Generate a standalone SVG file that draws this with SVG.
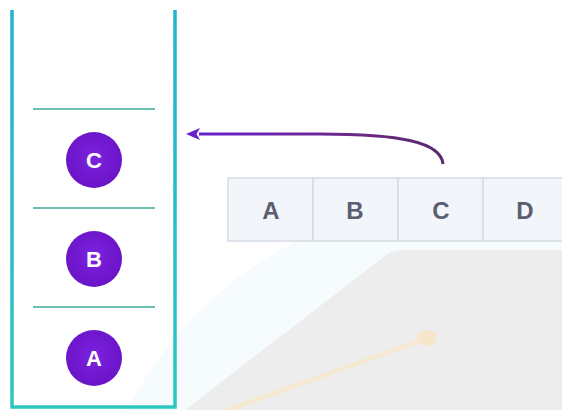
<svg xmlns="http://www.w3.org/2000/svg" width="562" height="410" viewBox="0 0 562 410">
  <defs>
    <linearGradient id="wall" x1="0" y1="0" x2="0" y2="1">
      <stop offset="0" stop-color="#22b3cf"/>
      <stop offset="1" stop-color="#2cc7bf"/>
    </linearGradient>
    <linearGradient id="arrowStroke" x1="0" y1="0" x2="1" y2="0">
      <stop offset="0" stop-color="#6a1fd0"/>
      <stop offset="0.6" stop-color="#6b2a8a"/>
      <stop offset="1" stop-color="#5a2a6a"/>
    </linearGradient>
    <radialGradient id="ball" cx="0.5" cy="0.45" r="0.6">
      <stop offset="0" stop-color="#7a22e0"/>
      <stop offset="1" stop-color="#6a12c4"/>
    </radialGradient>
    <marker id="head" viewBox="0 0 14 12" refX="1" refY="6" markerWidth="14" markerHeight="12" markerUnits="userSpaceOnUse" orient="auto-start-reverse">
      <path d="M0 0 L14 6 L0 12 L3.5 6 Z" fill="#6a1fd0"/>
    </marker>
    <style>
      .divider { stroke: #6cc0b2; stroke-width: 2; }
      .ball { fill: url(#ball); }
      .ballText { font-family: "Liberation Sans", Arial, sans-serif; font-weight: bold; font-size: 22px; fill: #ffffff; text-anchor: middle; }
      .cell { fill: #f2f6fb; stroke: #d3dbe4; stroke-width: 1.5; }
      .cellText { font-family: "Liberation Sans", Arial, sans-serif; font-weight: bold; font-size: 24px; fill: #5a5e70; text-anchor: middle; }
    </style>
  </defs>

  <rect width="562" height="410" fill="#ffffff"/>

  <!-- faint backdrop shapes -->
  <g id="backdrop">
    <circle cx="470" cy="585" r="385" fill="#f6fbfd"/>
    <path d="M185 410 L385 256 Q392 250 402 250 L562 250 L562 410 Z" fill="#ededed"/>
    <path d="M228 410 L422 340" stroke="#f5e9d4" stroke-width="5" stroke-linecap="round"/>
    <ellipse cx="427" cy="338" rx="10" ry="8" fill="#f5e6cc"/>
  </g>

  <!-- array of cells -->
  <g id="array">
    <g id="cell-A"><rect class="cell" x="228" y="178" width="85" height="63"/><text class="cellText" x="271" y="219">A</text></g>
    <g id="cell-B"><rect class="cell" x="313" y="178" width="85" height="63"/><text class="cellText" x="355" y="219">B</text></g>
    <g id="cell-C"><rect class="cell" x="398" y="178" width="85" height="63"/><text class="cellText" x="441" y="219">C</text></g>
    <g id="cell-D"><rect class="cell" x="483" y="178" width="85" height="63"/><text class="cellText" x="525" y="219">D</text></g>
  </g>

  <!-- stack container -->
  <g id="stack">
    <path d="M12 10 L12 407 L175 407 L175 10" fill="none" stroke="url(#wall)" stroke-width="3.5"/>
    <line class="divider" x1="33" y1="109" x2="155" y2="109"/>
    <line class="divider" x1="33" y1="208" x2="155" y2="208"/>
    <line class="divider" x1="33" y1="307" x2="155" y2="307"/>
  </g>

  <g id="item-C"><circle class="ball" cx="94" cy="160" r="28"/><text class="ballText" x="94" y="168">C</text></g>
  <g id="item-B"><circle class="ball" cx="94" cy="259" r="28"/><text class="ballText" x="94" y="267">B</text></g>
  <g id="item-A"><circle class="ball" cx="94" cy="358" r="28"/><text class="ballText" x="94" y="366">A</text></g>

  <!-- push connector -->
  <g id="connectors">
    <path d="M443 164 C 441 142, 400 134, 320 134 L 199 134" fill="none" stroke="url(#arrowStroke)" stroke-width="3" marker-end="url(#head)"/>
  </g>
</svg>
